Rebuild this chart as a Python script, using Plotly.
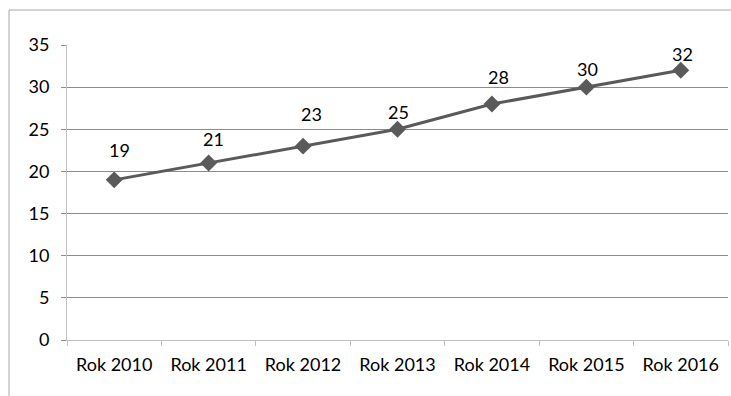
import plotly.graph_objects as go

categories = ["Rok 2010", "Rok 2011", "Rok 2012", "Rok 2013", "Rok 2014", "Rok 2015", "Rok 2016"]
values = [19, 21, 23, 25, 28, 30, 32]
y_ticks = [0, 5, 10, 15, 20, 25, 30, 35]

# label placement (style only)
label_yshift = [30, 24, 32, 17, 27, 18, 16]
label_xshift = [5, 5, 8, 1, 7, 1, 2]

FONT = "Lato"
FS = 18
fig = go.Figure()
fig.add_trace(go.Scatter(
    x=categories, y=values, mode="lines+markers",
    line=dict(color="#5a5a5a", width=3),
    marker=dict(symbol="diamond", size=13, color="#5a5a5a"),
    hoverinfo="skip",
))

annotations = []
for c, v, ys, xs in zip(categories, values, label_yshift, label_xshift):
    annotations.append(dict(x=c, y=v, text=str(v), showarrow=False,
                            yshift=ys, xshift=xs,
                            font=dict(family=FONT, size=FS, color="#000000")))

fig.update_layout(
    width=731, height=396,
    margin=dict(l=67, r=3, t=45, b=56),
    paper_bgcolor="white", plot_bgcolor="white",
    showlegend=False,
    font=dict(family=FONT, size=FS, color="#000000"),
    annotations=annotations,
    xaxis=dict(
        type="category", range=[-0.5, len(categories) - 0.5],
        showgrid=False, showline=True, linecolor="#bfbfbf", linewidth=1,
        ticks="outside", tickson="boundaries", ticklen=5, tickcolor="#bfbfbf",
        tickfont=dict(family=FONT, size=FS), zeroline=False, ticklabelstandoff=8,
    ),
    yaxis=dict(
        range=[0, 35], tickvals=y_ticks, showgrid=True, gridcolor="#8c8c8c", gridwidth=1,
        showline=True, linecolor="#bfbfbf", linewidth=1,
        ticks="outside", ticklen=5, tickcolor="#8c8c8c",
        tickfont=dict(family=FONT, size=FS), zeroline=False, ticklabelstandoff=8,
    ),
    shapes=[dict(type="rect", xref="paper", yref="paper",
                 x0=-0.0877, x1=1.02, y0=-0.4, y1=1.1186,
                 line=dict(color="#a6a6a6", width=1), fillcolor="rgba(0,0,0,0)", layer="below")],
)

fig.write_html("out.html")
